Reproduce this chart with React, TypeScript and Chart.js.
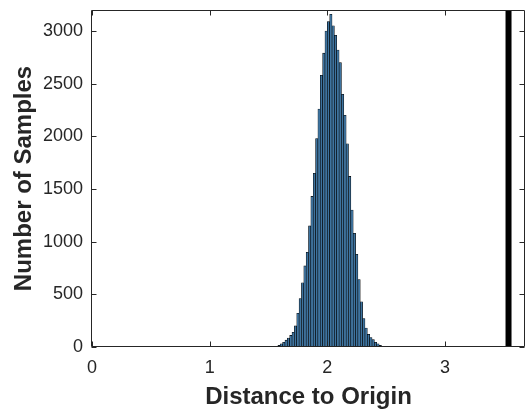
import React, { useEffect, useRef } from "react";
import { Chart, registerables } from "chart.js";

Chart.register(...registerables);

const binCenters = [
  1.57, 1.59, 1.61, 1.63, 1.65, 1.67, 1.69, 1.71, 1.73, 1.75,
  1.77, 1.79, 1.81, 1.83, 1.85, 1.87, 1.89, 1.91, 1.93, 1.95,
  1.97, 1.99, 2.01, 2.03, 2.05, 2.07, 2.09, 2.11, 2.13, 2.15,
  2.17, 2.19, 2.21, 2.23, 2.25, 2.27, 2.29, 2.31, 2.33, 2.35,
  2.37, 2.39, 2.41, 2.43, 2.45, 2.47,
];
const counts = [
  5, 15, 30, 45, 65, 85, 110, 140, 200, 320,
  460, 610, 770, 900, 1150, 1430, 1650, 1980, 2260, 2580,
  2790, 3000, 3090, 3160, 3050, 2960, 2820, 2700, 2400, 2200,
  1930, 1620, 1300, 1080, 880, 640, 430, 270, 180, 120,
  90, 70, 45, 30, 15, 5,
];
const xTicks = [0, 1, 2, 3];
const yTicks = [0, 500, 1000, 1500, 2000, 2500, 3000];
const xRange = [0, 3.68];
const yRange = [0, 3200];
const refLineX = 3.54;
const xLabel = "Distance to Origin";
const yLabel = "Number of Samples";

const FONT = "'Liberation Sans', Arial, Helvetica, sans-serif";
const AXIS_COLOR = "#262626";

const boxPlugin = {
  id: "matlabBox",
  afterDatasetsDraw(chart: any) {
    const { ctx, chartArea, scales } = chart;
    const { left, right, top, bottom } = chartArea;
    const x = scales.x;
    const y = scales.y;
    const L = left - 0.5;
    const R = right - 0.5;
    const T = top + 0.5;
    const B = bottom - 0.5;
    const tl = 5;
    ctx.save();
    ctx.strokeStyle = AXIS_COLOR;
    ctx.lineWidth = 1;
    ctx.beginPath();
    ctx.rect(L, T, R - L, B - T);
    ctx.stroke();
    ctx.beginPath();
    for (const v of xTicks) {
      const px = Math.round(x.getPixelForValue(v)) + 0.5;
      ctx.moveTo(px, B);
      ctx.lineTo(px, B - tl);
      ctx.moveTo(px, T);
      ctx.lineTo(px, T + tl);
    }
    for (const v of yTicks) {
      const py = Math.round(y.getPixelForValue(v)) + 0.5;
      ctx.moveTo(L, py);
      ctx.lineTo(L + tl, py);
      ctx.moveTo(R, py);
      ctx.lineTo(R - tl, py);
    }
    ctx.stroke();
    ctx.restore();
  },
};

const zeroPad = (s: any) => {
  s.paddingTop = 0;
  s.paddingBottom = 0;
  s.paddingLeft = 0;
  s.paddingRight = 0;
};

export default function App() {
  const ref = useRef<HTMLCanvasElement | null>(null);

  useEffect(() => {
    document.body.style.margin = "0";
    const canvas = ref.current;
    if (!canvas) return;
    const chart = new Chart(canvas, {
      type: "bar",
      data: {
        datasets: [
          {
            type: "bar",
            data: binCenters.map((c, i) => ({ x: c, y: counts[i] })),
            backgroundColor: "rgb(62,116,160)",
            borderColor: "#000000",
            borderWidth: 0.6,
            barPercentage: 1,
            categoryPercentage: 1,
          } as any,
          {
            type: "line",
            data: [
              { x: refLineX, y: yRange[0] },
              { x: refLineX, y: yRange[1] },
            ],
            borderColor: "#000000",
            borderWidth: 6,
            pointRadius: 0,
            fill: false,
          } as any,
        ],
      },
      plugins: [boxPlugin],
      options: {
        animation: false,
        responsive: false,
        maintainAspectRatio: false,
        layout: { padding: { left: 0, right: 1, top: 10, bottom: 0 } },
        plugins: { legend: { display: false }, tooltip: { enabled: false } },
        scales: {
          x: {
            type: "linear",
            min: xRange[0],
            max: xRange[1],
            offset: false,
            afterBuildTicks: (s: any) => {
              s.ticks = xTicks.map((v) => ({ value: v }));
            },
            afterFit: (s: any) => {
              s.height = 63;
              zeroPad(s);
            },
            grid: { display: false, drawTicks: false },
            border: { display: false },
            ticks: {
              padding: 10,
              color: AXIS_COLOR,
              font: { family: FONT, size: 18 },
              maxRotation: 0,
              callback: (v: any) => String(v),
            },
            title: {
              display: true,
              text: xLabel,
              color: AXIS_COLOR,
              font: { family: FONT, size: 24, weight: "bold", lineHeight: 1 },
              padding: { top: 0, bottom: 1 },
            },
          },
          y: {
            type: "linear",
            min: yRange[0],
            max: yRange[1],
            afterBuildTicks: (s: any) => {
              s.ticks = yTicks.map((v) => ({ value: v }));
            },
            afterFit: (s: any) => {
              s.width = 92;
              zeroPad(s);
            },
            grid: { display: false, drawTicks: false },
            border: { display: false },
            ticks: {
              padding: 9,
              color: AXIS_COLOR,
              font: { family: FONT, size: 18 },
              callback: (v: any) => String(v),
            },
            title: {
              display: true,
              text: yLabel,
              color: AXIS_COLOR,
              font: { family: FONT, size: 24, weight: "bold", lineHeight: 1 },
              padding: { top: 12, bottom: 0 },
            },
          },
        },
      } as any,
    });
    return () => chart.destroy();
  }, []);

  return (
    <div style={{ width: 526, height: 410 }}>
      <canvas ref={ref} width={526} height={410} style={{ display: "block" }} />
    </div>
  );
}
